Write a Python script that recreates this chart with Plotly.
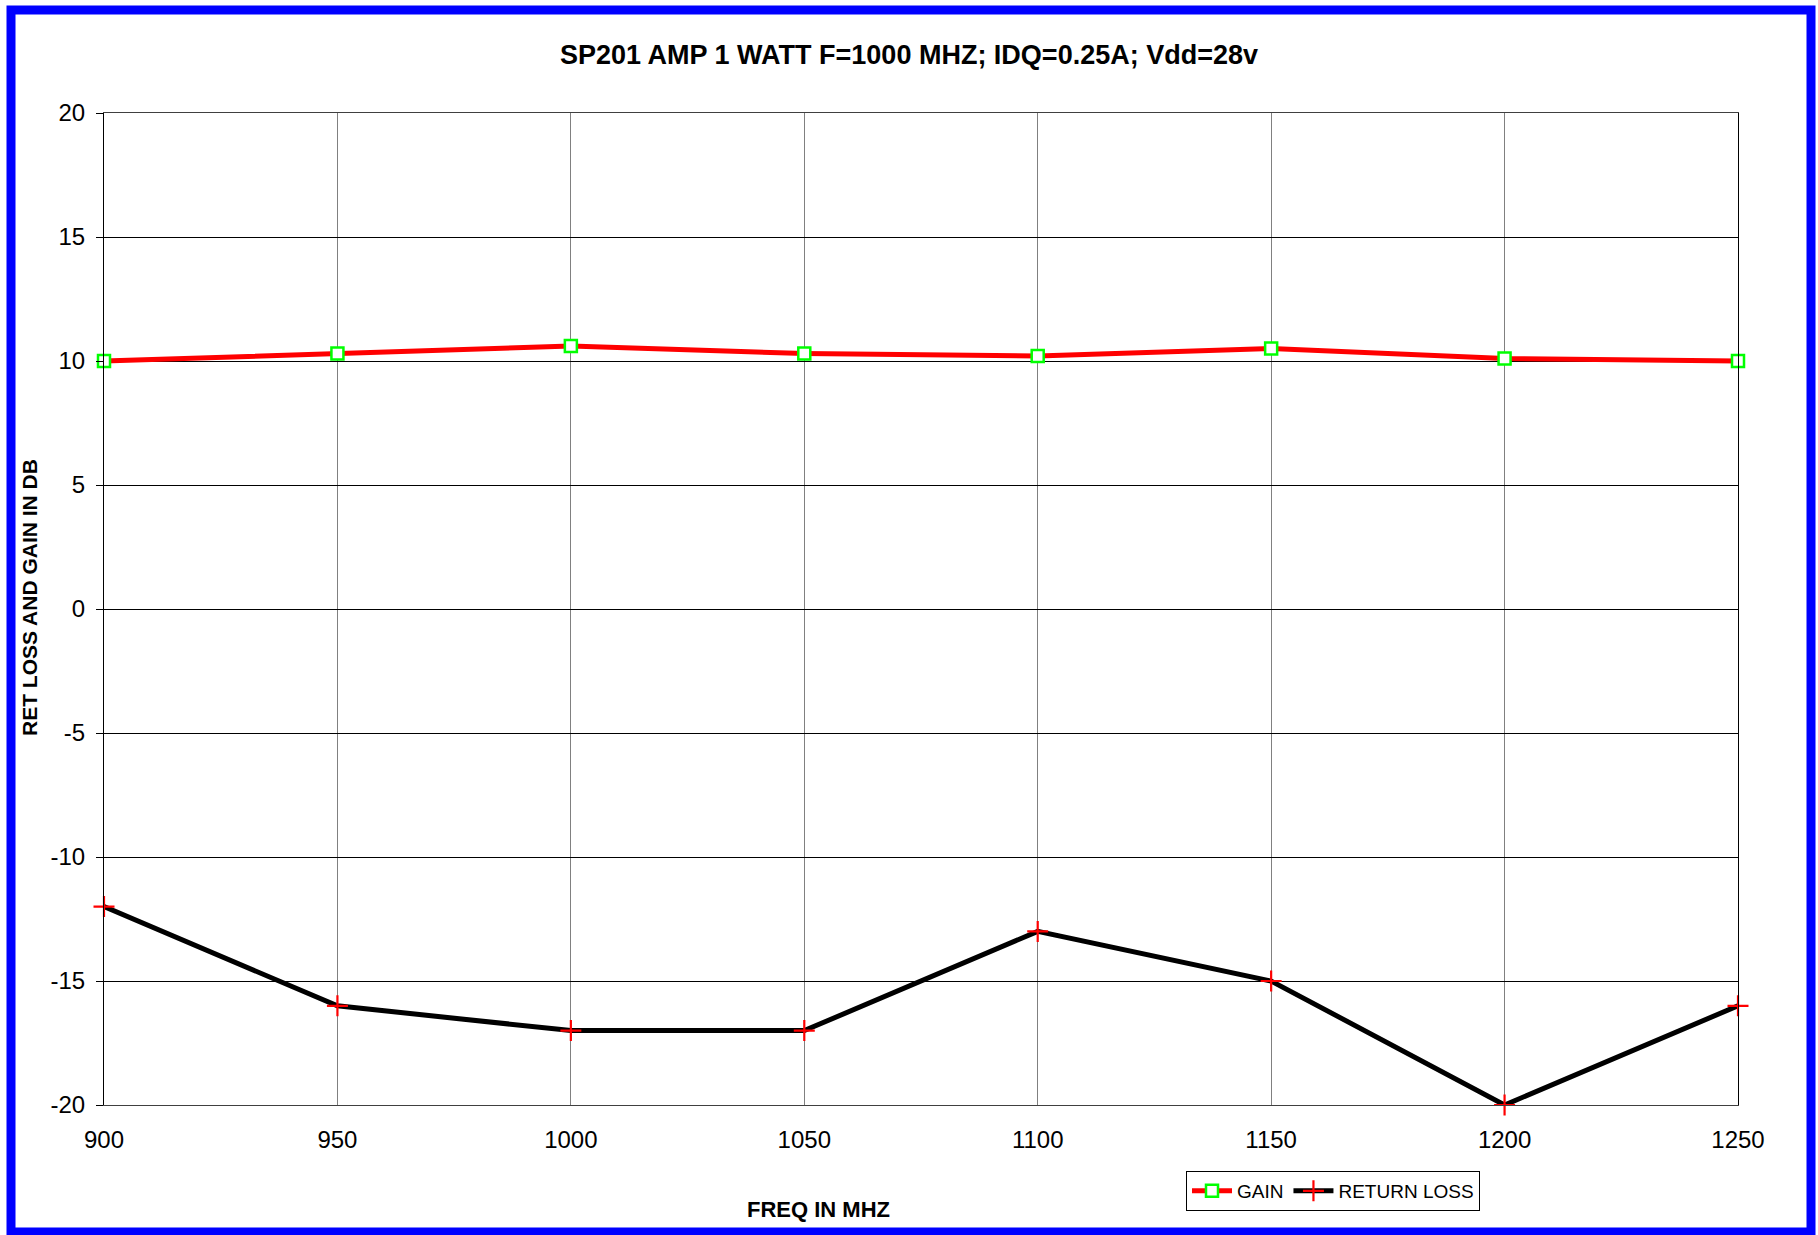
import plotly.graph_objects as go

freq = [900, 950, 1000, 1050, 1100, 1150, 1200, 1250]
gain = [10.0, 10.3, 10.6, 10.3, 10.2, 10.5, 10.1, 10.0]
return_loss = [-12, -16, -17, -17, -13, -15, -20, -16]

y_tick_vals = [-20, -15, -10, -5, 0, 5, 10, 15, 20]
y_tick_text = ["-20", "-15", "-10", "-5", "0", "5", "10", "15", "20"]

title_text = "SP201 AMP 1 WATT F=1000 MHZ; IDQ=0.25A; Vdd=28v"
x_title = "FREQ IN MHZ"
y_title = "RET LOSS AND GAIN IN DB"

W, H = 1818, 1235
L, R, T, B = 104, 1738, 113, 1105
pw, ph = R - L, B - T


def px(x):
    return (x - L) / pw


def py(y):
    return (B - y) / ph


FONT = "Liberation Sans, Arial, sans-serif"

fig = go.Figure()
fig.add_trace(go.Scatter(
    x=freq, y=gain, name="GAIN", mode="lines+markers", cliponaxis=False,
    line=dict(color="#FF0000", width=5),
    marker=dict(symbol="square", size=12, color="white",
                line=dict(color="#00FF00", width=2.5)),
))
fig.add_trace(go.Scatter(
    x=freq, y=return_loss, name="RETURN LOSS", mode="lines+markers",
    cliponaxis=False,
    line=dict(color="#000000", width=5),
    marker=dict(symbol="cross-thin", size=15, color="#FF0000",
                line=dict(color="#FF0000", width=2.2)),
))

fig.update_layout(
    width=W, height=H,
    margin=dict(l=L, r=W - R, t=T, b=H - B),
    paper_bgcolor="white", plot_bgcolor="white",
    font=dict(family=FONT, color="black"),
    title=dict(text="<b>" + title_text + "</b>", x=0.5, xanchor="center",
               y=1 - 55 / H, yref="container", yanchor="middle",
               font=dict(size=27, family=FONT, color="black")),
    xaxis=dict(range=[900, 1250], dtick=50, tick0=900,
               showgrid=True, gridcolor="#808080", gridwidth=1,
               showline=True, linecolor="#404040", linewidth=1,
               mirror=True, ticks="", zeroline=False,
               tickfont=dict(size=24, family=FONT, color="black"),
               ticklabelstandoff=13),
    xaxis2=dict(range=[900, 1250], dtick=50, tick0=900, overlaying="x",
                side="top", showticklabels=False, ticks="outside",
                ticklen=7, tickcolor="#404040", tickwidth=1,
                showgrid=False, showline=False, zeroline=False),
    yaxis=dict(range=[-20, 20], tickmode="array", tickvals=y_tick_vals,
               ticktext=y_tick_text,
               showgrid=True, gridcolor="#000000", gridwidth=1,
               showline=True, linecolor="#000000", linewidth=1,
               mirror=True, ticks="outside", ticklen=7,
               tickcolor="#000000", zeroline=False,
               tickfont=dict(size=24, family=FONT, color="black"),
               ticklabelstandoff=6),
    legend=dict(orientation="h", x=px(1186), xanchor="left",
                y=py(1171), yanchor="top",
                bordercolor="black", borderwidth=1, bgcolor="white",
                font=dict(size=19, family=FONT, color="black"),
                itemwidth=40, tracegroupgap=0),
    showlegend=True,
    annotations=[
        dict(text="<b>" + y_title + "</b>", xref="paper", yref="paper",
             x=px(29), y=py(598), textangle=-90, showarrow=False,
             xanchor="center", yanchor="middle",
             font=dict(size=21, family=FONT, color="black")),
        dict(text="<b>" + x_title + "</b>", xref="paper", yref="paper",
             x=px(818), y=py(1209), showarrow=False,
             xanchor="center", yanchor="middle",
             font=dict(size=22, family=FONT, color="black")),
    ],
    shapes=[
        dict(type="rect", xref="paper", yref="paper",
             x0=px(11), x1=px(1811), y0=py(1232), y1=py(10),
             line=dict(color="#0000FF", width=9), fillcolor="rgba(0,0,0,0)",
             layer="above"),
    ],
)

fig.write_html(
    "out.html",
    config={"displayModeBar": False},
    post_script="document.body.style.margin='0px';"
                "document.body.style.overflow='hidden';",
)
